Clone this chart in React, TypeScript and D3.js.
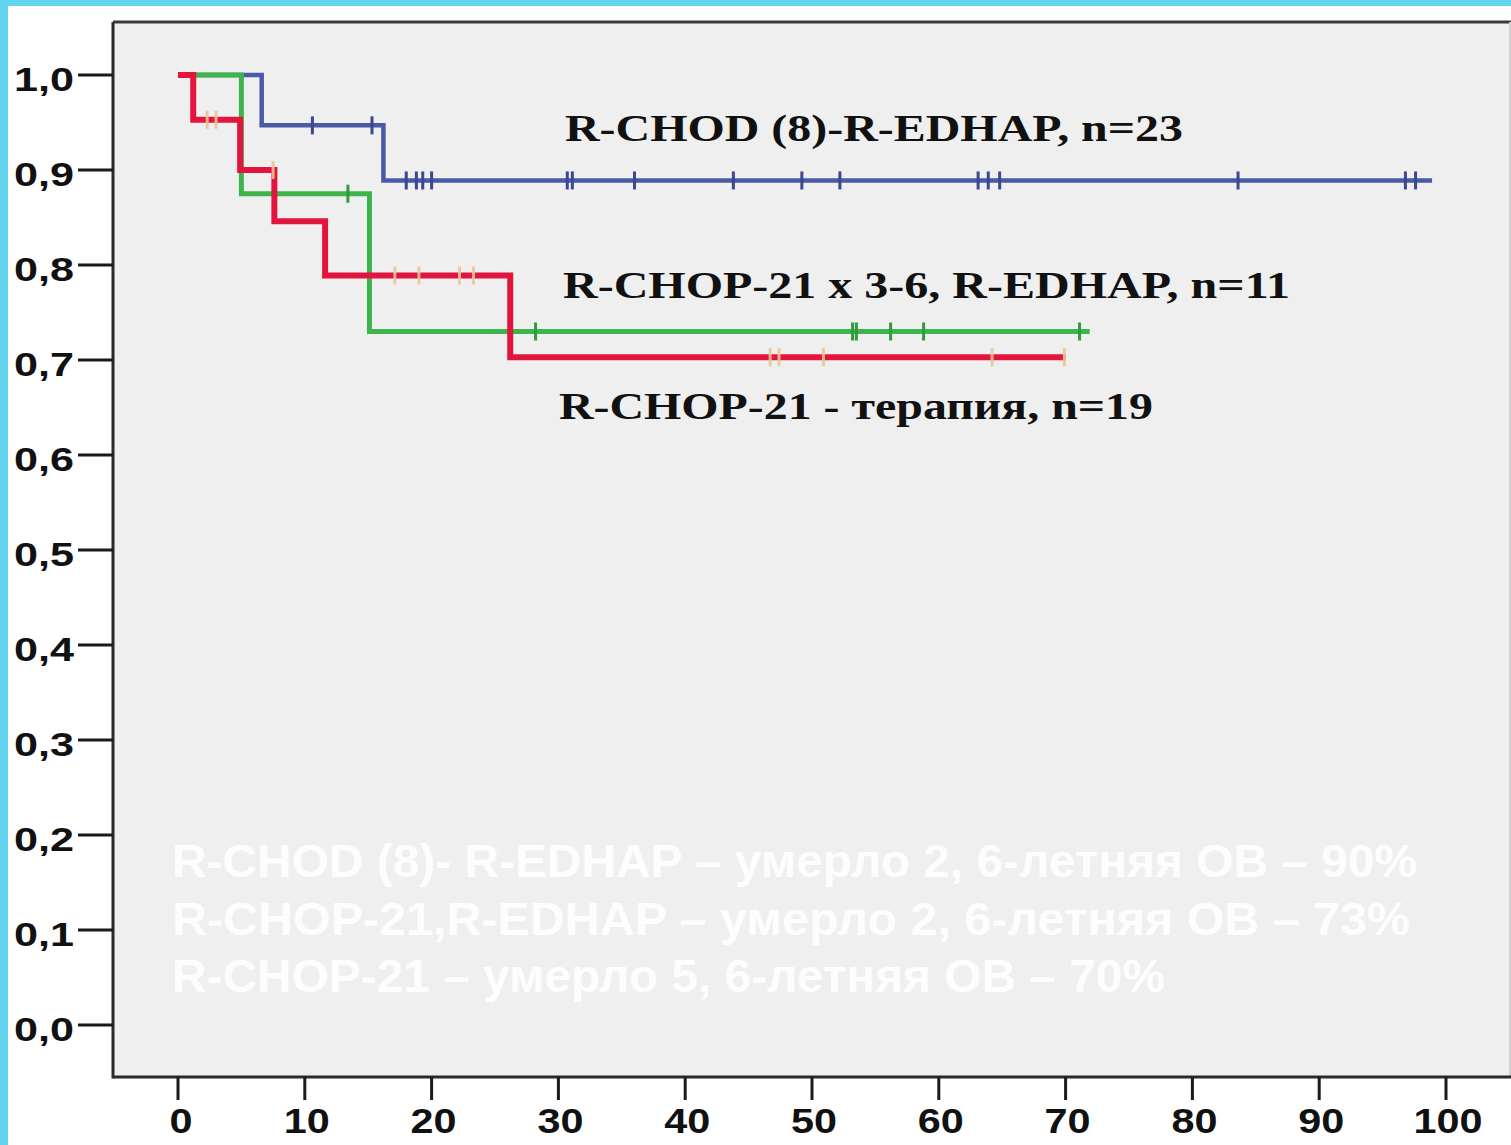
import React from 'react';
import * as d3 from 'd3';

// months, survival after the drop
const blueDrops: [number, number][] = [
  [6.6, 0.947],
  [16.2, 0.889],
];
const blueCensored = [10.6, 15.3, 18.0, 18.8, 19.3, 20.0, 30.7, 31.1, 36.0, 43.8, 49.2, 52.2, 63.1, 63.9, 64.8, 83.6, 96.8, 97.6];
const blueEnd = 98.9;

const greenDrops: [number, number][] = [
  [5.0, 0.875],
  [15.1, 0.73],
];
const greenCensored = [13.4, 28.2, 53.2, 53.5, 56.2, 58.8, 71.1];
const greenEnd = 71.9;

const redDrops: [number, number][] = [
  [1.2, 0.953],
  [4.9, 0.9],
  [7.6, 0.846],
  [11.6, 0.789],
  [26.2, 0.703],
];
const redCensored = [2.3, 3.0, 7.5, 17.1, 19.0, 22.2, 23.3, 46.7, 47.4, 50.9, 64.2, 69.9];
const redEnd = 70.0;

const xTicks = [0, 10, 20, 30, 40, 50, 60, 70, 80, 90, 100];
const yTicks = [0, 0.1, 0.2, 0.3, 0.4, 0.5, 0.6, 0.7, 0.8, 0.9, 1.0];

const curveLabels = [
  'R-CHOD (8)-R-EDHAP, n=23',
  'R-CHOP-21 x 3-6, R-EDHAP, n=11',
  'R-CHOP-21 - терапия, n=19',
];

const noteLines = [
  'R-CHOD (8)- R-EDHAP – умерло 2, 6-летняя ОВ – 90%',
  'R-CHOP-21,R-EDHAP – умерло 2,  6-летняя ОВ – 73%',
  'R-CHOP-21 – умерло 5, 6-летняя ОВ – 70%',
];

const W = 1511;
const H = 1145;

const x = d3.scaleLinear().domain([0, 100]).range([178, 1446]);
const y = d3.scaleLinear().domain([0, 1]).range([1025, 75]);

const stepLine = d3
  .line<[number, number]>()
  .x((d) => x(d[0]))
  .y((d) => y(d[1]))
  .curve(d3.curveStepAfter);

function survivalAt(drops: [number, number][], t: number) {
  let s = 1;
  drops.forEach((d) => {
    if (d[0] <= t) s = d[1];
  });
  return s;
}

function curvePoints(drops: [number, number][], end: number): [number, number][] {
  const pts: [number, number][] = [[0, 1], ...drops];
  pts.push([end, drops[drops.length - 1][1]]);
  return pts;
}

const curves = [
  { drops: blueDrops, censored: blueCensored, end: blueEnd, color: '#4a5aa8', mark: '#3b4790', width: 4.5, markOpacity: 1 },
  { drops: greenDrops, censored: greenCensored, end: greenEnd, color: '#3db54c', mark: '#2f9a3e', width: 5, markOpacity: 1 },
  { drops: redDrops, censored: redCensored, end: redEnd, color: '#e2153f', mark: '#e8c596', width: 6, markOpacity: 0.9 },
];

export default function App() {
  const plotLeft = 113;
  const plotTop = 22;
  const plotBottom = 1077;
  const plotRight = 1510;

  return (
    <div style={{ position: 'absolute', left: 0, top: 0, width: W, height: H, overflow: 'hidden' }}>
      <svg width={W} height={H} style={{ display: 'block' }}>
        <rect x={0} y={0} width={W} height={H} fill="#ffffff" />
        <rect x={0} y={0} width={W} height={6} fill="#62d4ee" />
        <rect x={0} y={0} width={8} height={H} fill="#62d4ee" />

        {/* plot area */}
        <rect x={plotLeft} y={plotTop} width={plotRight - plotLeft} height={plotBottom - plotTop} fill="#efefef" />
        <line x1={plotLeft} x2={W} y1={plotTop} y2={plotTop} stroke="#3a3a3a" strokeWidth={3} />
        <line x1={plotRight} x2={plotRight} y1={plotTop} y2={plotBottom} stroke="#d0d0d0" strokeWidth={2} />
        <line x1={plotLeft} x2={plotLeft} y1={plotTop} y2={plotBottom + 1.5} stroke="#2a2a2a" strokeWidth={3} />
        <line x1={plotLeft} x2={W} y1={plotBottom} y2={plotBottom} stroke="#2a2a2a" strokeWidth={3} />

        {/* y axis */}
        {yTicks.map((v) => (
          <g key={v}>
            <line x1={78} x2={plotLeft} y1={y(v)} y2={y(v)} stroke="#1a1a1a" strokeWidth={3} />
            <text
              x={14}
              y={y(v) + 16}
              fontFamily="'Liberation Sans', Arial, sans-serif"
              fontWeight="bold"
              fontSize={33}
              textLength={60}
              lengthAdjust="spacingAndGlyphs"
              fill="#111"
            >
              {v.toFixed(1).replace('.', ',')}
            </text>
          </g>
        ))}

        {/* x axis */}
        {xTicks.map((v) => {
          const label = String(v);
          return (
            <g key={v}>
              <line x1={x(v)} x2={x(v)} y1={plotBottom} y2={1100} stroke="#1a1a1a" strokeWidth={3} />
              <text
                x={x(v) + (v === 0 ? 3 : 2)}
                y={1133}
                textAnchor="middle"
                fontFamily="'Liberation Sans', Arial, sans-serif"
                fontWeight="bold"
                fontSize={35}
                textLength={label.length * 23}
                lengthAdjust="spacingAndGlyphs"
                fill="#111"
              >
                {label}
              </text>
            </g>
          );
        })}

        {/* survival curves */}
        {curves.map((c, i) => (
          <g key={i}>
            <path d={stepLine(curvePoints(c.drops, c.end)) || ''} fill="none" stroke={c.color} strokeWidth={c.width} />
            {c.censored.map((t, j) => (
              <line
                key={j}
                x1={x(t)}
                x2={x(t)}
                y1={y(survivalAt(c.drops, t)) - 9}
                y2={y(survivalAt(c.drops, t)) + 9}
                stroke={c.mark}
                strokeOpacity={c.markOpacity}
                strokeWidth={3}
              />
            ))}
          </g>
        ))}

        {/* curve labels */}
        <text x={565} y={141} fontFamily="'Liberation Serif', 'Times New Roman', serif" fontWeight="bold" fontSize={37} textLength={618} lengthAdjust="spacingAndGlyphs" fill="#111">
          {curveLabels[0]}
        </text>
        <text x={563} y={298} fontFamily="'Liberation Serif', 'Times New Roman', serif" fontWeight="bold" fontSize={37} textLength={727} lengthAdjust="spacingAndGlyphs" fill="#111">
          {curveLabels[1]}
        </text>
        <text x={559} y={419} fontFamily="'Liberation Serif', 'Times New Roman', serif" fontWeight="bold" fontSize={37} textLength={594} lengthAdjust="spacingAndGlyphs" fill="#111">
          {curveLabels[2]}
        </text>

        {/* summary notes */}
        {noteLines.map((s, i) => (
          <text
            key={i}
            x={172}
            y={877 + i * 57.5}
            fontFamily="'Liberation Sans', Arial, sans-serif"
            fontWeight="bold"
            fontSize={46}
            textLength={[1245, 1238, 993][i]}
            lengthAdjust="spacingAndGlyphs"
            fill="#ffffff"
            fillOpacity={0.9}
          >
            {s}
          </text>
        ))}
      </svg>
    </div>
  );
}
